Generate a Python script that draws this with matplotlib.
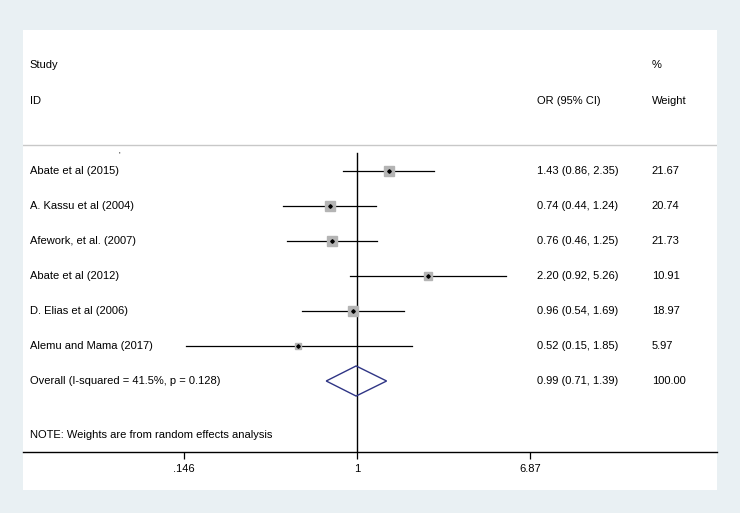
import numpy as np
import matplotlib.pyplot as plt
import matplotlib.transforms as mtransforms
from matplotlib.patches import Rectangle

# Data
studies = ["Abate et al (2015)", "A. Kassu et al (2004)", "Afework, et al. (2007)",
           "Abate et al (2012)", "D. Elias et al (2006)", "Alemu and Mama (2017)"]
odds = [1.43, 0.74, 0.76, 2.20, 0.96, 0.52]
lower = [0.86, 0.44, 0.46, 0.92, 0.54, 0.15]
upper = [2.35, 1.24, 1.25, 5.26, 1.69, 1.85]
weights = [21.67, 20.74, 21.73, 10.91, 18.97, 5.97]

overall_label = "Overall (I-squared = 41.5%, p = 0.128)"
overall = [0.99, 0.71, 1.39]
overall_weight = 100.00

xticks = [0.146, 1, 6.87]
xtick_labels = [".146", "1", "6.87"]

plt.rcParams['font.family'] = ['Liberation Sans', 'DejaVu Sans']

W, H = 740, 513
fig = plt.figure(figsize=(W / 100, H / 100), dpi=100)
fig.patch.set_facecolor('#e9f0f3')

# white panel
fig.patches.append(Rectangle((23 / W, 1 - 490 / H), (717 - 23) / W, (490 - 30) / H,
                             transform=fig.transFigure, facecolor='white',
                             edgecolor='none', zorder=0))

ax = fig.add_axes([23 / W, 1 - 452 / H, (717 - 23) / W, (452 - 30) / H])
ax.set_zorder(5)
ax.set_facecolor('none')
ax.set_xscale('log')
px = 89.9  # pixels per ln unit
ax.set_xlim(np.exp((23 - 357) / px), np.exp((717 - 357) / px))
row_top = 171
step = 35
ax.set_ylim((452 - row_top) / step, (30 - row_top) / step)

fs = 8
for s in ['top', 'left', 'right']:
    ax.spines[s].set_visible(False)
ax.spines['bottom'].set_linewidth(1.0)
ax.tick_params(axis='y', left=False, labelleft=False)
ax.set_xticks(xticks)
ax.set_xticklabels(xtick_labels, fontsize=fs)
ax.minorticks_off()
ax.tick_params(axis='x', length=5, width=0.9, pad=4)

trans = mtransforms.blended_transform_factory(ax.transAxes, ax.transData)

# header
ax.text(0.010, (65 - row_top) / step, "Study", transform=trans, fontsize=fs, va='center')
ax.text(0.010, (101 - row_top) / step, "ID", transform=trans, fontsize=fs, va='center')
ax.text(0.741, (101 - row_top) / step, "OR (95% CI)", transform=trans, fontsize=fs, va='center')
ax.text(0.906, (65 - row_top) / step, "%", transform=trans, fontsize=fs, va='center')
ax.text(0.906, (101 - row_top) / step, "Weight", transform=trans, fontsize=fs, va='center')
ax.text(0.137, (155 - row_top) / step, "'", transform=trans, fontsize=6, va='center')

# separator under header
ax.plot([0, 1], [(145 - row_top) / step] * 2, transform=trans, color='#c8c8c8', lw=1.0)

# null line
ax.plot([1, 1], [(153 - row_top) / step, (452 - row_top) / step], color='black', lw=1.0)

for i, name in enumerate(studies):
    ax.plot([lower[i], upper[i]], [i, i], color='black', lw=0.9)
    ax.plot(odds[i], i, marker='s', ls='none', color='#b4b4b4',
            markersize=7.9 * np.sqrt(weights[i] / 21.67), zorder=3)
    ax.plot(odds[i], i, marker='D', ls='none', color='black', markersize=1.8, zorder=4)
    ax.text(0.010, i, name, transform=trans, fontsize=fs, va='center')
    ax.text(0.741, i, "%.2f (%.2f, %.2f)" % (odds[i], lower[i], upper[i]),
            transform=trans, fontsize=fs, va='center')
    ax.text(0.906, i, "%.2f" % weights[i], transform=trans, fontsize=fs, va='center')

k = len(studies)
est, lo, hi = overall
ax.fill([lo, est, hi, est, lo], [k, k - 0.43, k, k + 0.43, k], facecolor='none',
        edgecolor='#2f3585', lw=1.0, zorder=3)
ax.text(0.010, k, overall_label, transform=trans, fontsize=fs, va='center')
ax.text(0.741, k, "%.2f (%.2f, %.2f)" % (est, lo, hi), transform=trans, fontsize=fs, va='center')
ax.text(0.906, k, "%.2f" % overall_weight, transform=trans, fontsize=fs, va='center')

ax.text(0.010, (435 - row_top) / step, "NOTE: Weights are from random effects analysis",
        transform=trans, fontsize=fs, va='center')

fig.savefig('out.png', dpi=100, facecolor=fig.get_facecolor())
